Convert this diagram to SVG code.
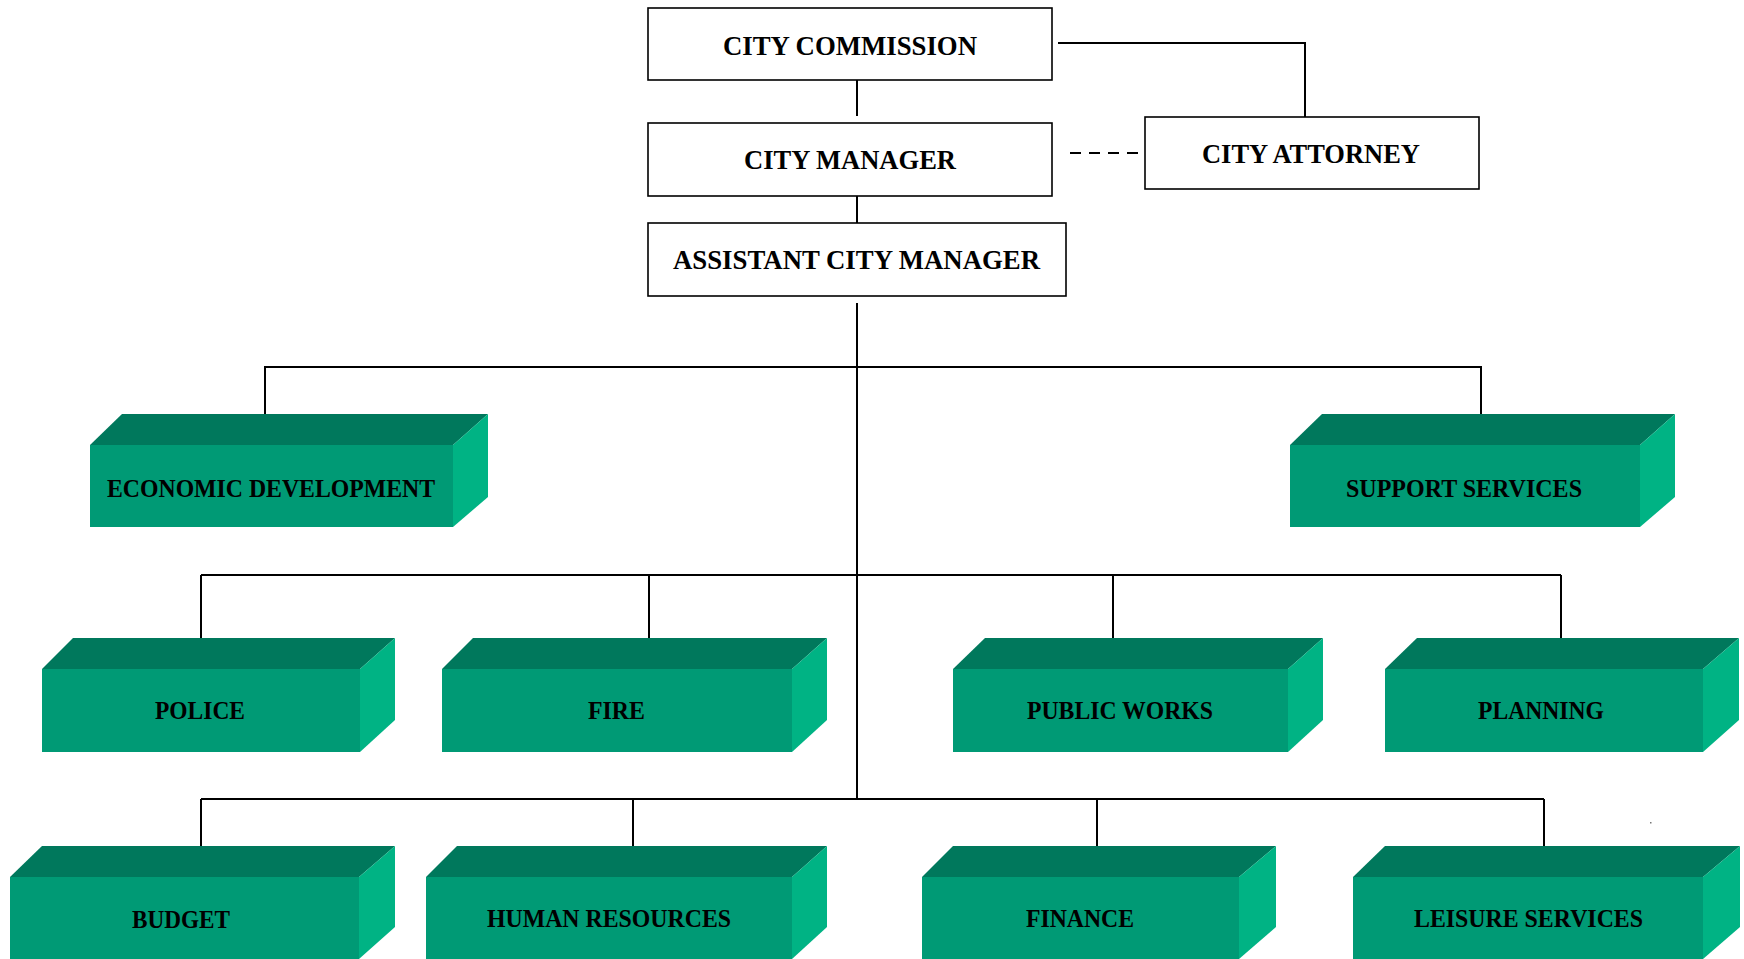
<svg xmlns="http://www.w3.org/2000/svg" width="1744" height="959" viewBox="0 0 1744 959">
<style>
.box{fill:#fff;stroke:#000;stroke-width:1.6}
.t{font-family:"Liberation Serif","Times New Roman",serif;font-weight:bold;fill:#000}
.bt{font-size:28px}
.gt{font-size:26px}
.top{fill:#00785C}
.front{fill:#009A75}
.side{fill:#00B384}
.ln{fill:none;stroke:#000;stroke-width:2}
</style>
<rect width="1744" height="959" fill="#fff"/>
<g id="connectors">
<line class="ln" x1="857" y1="80" x2="857" y2="116"/>
<line class="ln" x1="857" y1="192" x2="857" y2="223"/>
<polyline class="ln" points="1058,43 1305,43 1305,117"/>
<line class="ln" x1="1070" y1="153" x2="1142" y2="153" stroke-dasharray="11,8"/>
<line class="ln" x1="857" y1="303" x2="857" y2="799"/>
<polyline class="ln" points="265,414 265,367 1481,367 1481,414"/>
<line class="ln" x1="201" y1="575" x2="1561" y2="575"/>
<line class="ln" x1="201" y1="575" x2="201" y2="638"/>
<line class="ln" x1="649" y1="575" x2="649" y2="638"/>
<line class="ln" x1="1113" y1="575" x2="1113" y2="638"/>
<line class="ln" x1="1561" y1="575" x2="1561" y2="638"/>
<line class="ln" x1="201" y1="799" x2="1544" y2="799"/>
<line class="ln" x1="201" y1="799" x2="201" y2="846"/>
<line class="ln" x1="633" y1="799" x2="633" y2="846"/>
<line class="ln" x1="1097" y1="799" x2="1097" y2="846"/>
<line class="ln" x1="1544" y1="799" x2="1544" y2="846"/>
</g>
<g id="city-commission">
<rect class="box" x="648" y="8" width="404" height="72"/>
<text class="t bt" x="723" y="55" textLength="254" lengthAdjust="spacingAndGlyphs">CITY COMMISSION</text>
</g>
<g id="city-manager">
<rect class="box" x="648" y="123" width="404" height="73"/>
<text class="t bt" x="744" y="169" textLength="212" lengthAdjust="spacingAndGlyphs">CITY MANAGER</text>
</g>
<g id="city-attorney">
<rect class="box" x="1145" y="117" width="334" height="72"/>
<text class="t bt" x="1202" y="163" textLength="218" lengthAdjust="spacingAndGlyphs">CITY ATTORNEY</text>
</g>
<g id="assistant-city-manager">
<rect class="box" x="648" y="223" width="418" height="73"/>
<text class="t bt" x="673" y="269" textLength="367" lengthAdjust="spacingAndGlyphs">ASSISTANT CITY MANAGER</text>
</g>
<g id="economic-development">
<polygon class="top" points="90,445 122,414 488,414 453,445"/>
<rect class="front" x="90" y="445" width="363" height="82"/>
<polygon class="side" points="453,445 488,414 488,497 453,527"/>
<text class="t gt" x="107" y="497" textLength="328" lengthAdjust="spacingAndGlyphs">ECONOMIC DEVELOPMENT</text>
</g>
<g id="support-services">
<polygon class="top" points="1290,445 1322,414 1675,414 1640,445"/>
<rect class="front" x="1290" y="445" width="350" height="82"/>
<polygon class="side" points="1640,445 1675,414 1675,497 1640,527"/>
<text class="t gt" x="1346" y="497" textLength="236" lengthAdjust="spacingAndGlyphs">SUPPORT SERVICES</text>
</g>
<g id="police">
<polygon class="top" points="42,669 73,638 395,638 360,669"/>
<rect class="front" x="42" y="669" width="318" height="83"/>
<polygon class="side" points="360,669 395,638 395,720 360,752"/>
<text class="t gt" x="155" y="719" textLength="90" lengthAdjust="spacingAndGlyphs">POLICE</text>
</g>
<g id="fire">
<polygon class="top" points="442,669 473,638 827,638 792,669"/>
<rect class="front" x="442" y="669" width="350" height="83"/>
<polygon class="side" points="792,669 827,638 827,720 792,752"/>
<text class="t gt" x="588" y="719" textLength="57" lengthAdjust="spacingAndGlyphs">FIRE</text>
</g>
<g id="public-works">
<polygon class="top" points="953,669 985,638 1323,638 1288,669"/>
<rect class="front" x="953" y="669" width="335" height="83"/>
<polygon class="side" points="1288,669 1323,638 1323,720 1288,752"/>
<text class="t gt" x="1027" y="719" textLength="186" lengthAdjust="spacingAndGlyphs">PUBLIC WORKS</text>
</g>
<g id="planning">
<polygon class="top" points="1385,669 1417,638 1739,638 1703,669"/>
<rect class="front" x="1385" y="669" width="318" height="83"/>
<polygon class="side" points="1703,669 1739,638 1739,720 1703,752"/>
<text class="t gt" x="1478" y="719" textLength="126" lengthAdjust="spacingAndGlyphs">PLANNING</text>
</g>
<g id="budget">
<polygon class="top" points="10,877 42,846 395,846 359,877"/>
<rect class="front" x="10" y="877" width="349" height="82"/>
<polygon class="side" points="359,877 395,846 395,927 359,959"/>
<text class="t gt" x="132" y="928" textLength="98" lengthAdjust="spacingAndGlyphs">BUDGET</text>
</g>
<g id="human-resources">
<polygon class="top" points="426,877 457,846 827,846 792,877"/>
<rect class="front" x="426" y="877" width="366" height="82"/>
<polygon class="side" points="792,877 827,846 827,927 792,959"/>
<text class="t gt" x="487" y="927" textLength="244" lengthAdjust="spacingAndGlyphs">HUMAN RESOURCES</text>
</g>
<g id="finance">
<polygon class="top" points="922,877 953,846 1276,846 1239,877"/>
<rect class="front" x="922" y="877" width="317" height="82"/>
<polygon class="side" points="1239,877 1276,846 1276,927 1239,959"/>
<text class="t gt" x="1026" y="927" textLength="108" lengthAdjust="spacingAndGlyphs">FINANCE</text>
</g>
<g id="leisure-services">
<polygon class="top" points="1353,877 1385,846 1740,846 1703,877"/>
<rect class="front" x="1353" y="877" width="350" height="82"/>
<polygon class="side" points="1703,877 1740,846 1740,927 1703,959"/>
<text class="t gt" x="1414" y="927" textLength="229" lengthAdjust="spacingAndGlyphs">LEISURE SERVICES</text>
</g>
<rect x="1650" y="822" width="1.5" height="1.5" fill="#777"/>
</svg>
